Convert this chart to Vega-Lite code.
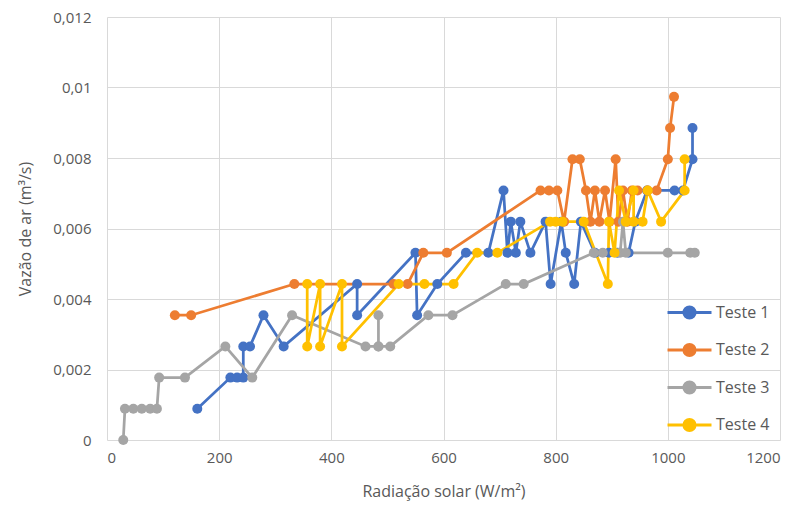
{
  "$schema": "https://vega.github.io/schema/vega-lite/v6.json",
  "width": 673,
  "height": 423,
  "autosize": {"type": "none"},
  "padding": {"left": 107, "top": 17, "right": 27, "bottom": 73},
  "background": "white",
  "config": {
    "font": "Open Sans",
    "view": {"stroke": null},
    "axis": {"labelColor": "#595959", "titleColor": "#595959", "labelFontSize": 15, "titleFontSize": 16, "titleFontWeight": "normal", "gridColor": "#d9d9d9", "gridWidth": 1, "domain": false, "ticks": false}
  },
  "data": {"values": [
    {"s":"Teste 1","i":1,"x":161,"y":0.000885},
    {"s":"Teste 1","i":2,"x":220,"y":0.00177},
    {"s":"Teste 1","i":3,"x":232,"y":0.00177},
    {"s":"Teste 1","i":4,"x":243,"y":0.00177},
    {"s":"Teste 1","i":5,"x":243,"y":0.002655},
    {"s":"Teste 1","i":6,"x":255,"y":0.002655},
    {"s":"Teste 1","i":7,"x":279,"y":0.00354},
    {"s":"Teste 1","i":8,"x":315,"y":0.002655},
    {"s":"Teste 1","i":9,"x":446,"y":0.004425},
    {"s":"Teste 1","i":10,"x":446,"y":0.00354},
    {"s":"Teste 1","i":11,"x":550,"y":0.00531},
    {"s":"Teste 1","i":12,"x":553,"y":0.00354},
    {"s":"Teste 1","i":13,"x":589,"y":0.004425},
    {"s":"Teste 1","i":14,"x":640,"y":0.00531},
    {"s":"Teste 1","i":15,"x":680,"y":0.00531},
    {"s":"Teste 1","i":16,"x":707,"y":0.00708},
    {"s":"Teste 1","i":17,"x":714,"y":0.00531},
    {"s":"Teste 1","i":18,"x":720,"y":0.006195},
    {"s":"Teste 1","i":19,"x":729,"y":0.00531},
    {"s":"Teste 1","i":20,"x":737,"y":0.006195},
    {"s":"Teste 1","i":21,"x":755,"y":0.00531},
    {"s":"Teste 1","i":22,"x":782,"y":0.006195},
    {"s":"Teste 1","i":23,"x":791,"y":0.004425},
    {"s":"Teste 1","i":24,"x":810,"y":0.006195},
    {"s":"Teste 1","i":25,"x":818,"y":0.00531},
    {"s":"Teste 1","i":26,"x":833,"y":0.004425},
    {"s":"Teste 1","i":27,"x":845,"y":0.006195},
    {"s":"Teste 1","i":28,"x":870,"y":0.00531},
    {"s":"Teste 1","i":29,"x":895,"y":0.00531},
    {"s":"Teste 1","i":30,"x":910,"y":0.00531},
    {"s":"Teste 1","i":31,"x":930,"y":0.00531},
    {"s":"Teste 1","i":32,"x":942,"y":0.006195},
    {"s":"Teste 1","i":33,"x":963,"y":0.00708},
    {"s":"Teste 1","i":34,"x":1012,"y":0.00708},
    {"s":"Teste 1","i":35,"x":1027,"y":0.00708},
    {"s":"Teste 1","i":36,"x":1044,"y":0.007965},
    {"s":"Teste 1","i":37,"x":1044,"y":0.00885},
    {"s":"Teste 2","i":1,"x":121,"y":0.00354},
    {"s":"Teste 2","i":2,"x":150,"y":0.00354},
    {"s":"Teste 2","i":3,"x":334,"y":0.004425},
    {"s":"Teste 2","i":4,"x":511,"y":0.004425},
    {"s":"Teste 2","i":5,"x":536,"y":0.004425},
    {"s":"Teste 2","i":6,"x":564,"y":0.00531},
    {"s":"Teste 2","i":7,"x":606,"y":0.00531},
    {"s":"Teste 2","i":8,"x":773,"y":0.00708},
    {"s":"Teste 2","i":9,"x":788,"y":0.00708},
    {"s":"Teste 2","i":10,"x":803,"y":0.00708},
    {"s":"Teste 2","i":11,"x":815,"y":0.006195},
    {"s":"Teste 2","i":12,"x":830,"y":0.007965},
    {"s":"Teste 2","i":13,"x":843,"y":0.007965},
    {"s":"Teste 2","i":14,"x":854,"y":0.00708},
    {"s":"Teste 2","i":15,"x":862,"y":0.006195},
    {"s":"Teste 2","i":16,"x":870,"y":0.00708},
    {"s":"Teste 2","i":17,"x":878,"y":0.006195},
    {"s":"Teste 2","i":18,"x":888,"y":0.00708},
    {"s":"Teste 2","i":19,"x":896,"y":0.006195},
    {"s":"Teste 2","i":20,"x":907,"y":0.007965},
    {"s":"Teste 2","i":21,"x":912,"y":0.006195},
    {"s":"Teste 2","i":22,"x":920,"y":0.00708},
    {"s":"Teste 2","i":23,"x":928,"y":0.006195},
    {"s":"Teste 2","i":24,"x":936,"y":0.00708},
    {"s":"Teste 2","i":25,"x":946,"y":0.00708},
    {"s":"Teste 2","i":26,"x":964,"y":0.00708},
    {"s":"Teste 2","i":27,"x":980,"y":0.00708},
    {"s":"Teste 2","i":28,"x":1000,"y":0.007965},
    {"s":"Teste 2","i":29,"x":1004,"y":0.00885},
    {"s":"Teste 2","i":30,"x":1011,"y":0.009735},
    {"s":"Teste 3","i":1,"x":29,"y":0},
    {"s":"Teste 3","i":2,"x":32,"y":0.000885},
    {"s":"Teste 3","i":3,"x":47,"y":0.000885},
    {"s":"Teste 3","i":4,"x":62,"y":0.000885},
    {"s":"Teste 3","i":5,"x":77,"y":0.000885},
    {"s":"Teste 3","i":6,"x":89,"y":0.000885},
    {"s":"Teste 3","i":7,"x":93,"y":0.00177},
    {"s":"Teste 3","i":8,"x":139,"y":0.00177},
    {"s":"Teste 3","i":9,"x":211,"y":0.002655},
    {"s":"Teste 3","i":10,"x":259,"y":0.00177},
    {"s":"Teste 3","i":11,"x":330,"y":0.00354},
    {"s":"Teste 3","i":12,"x":461,"y":0.002655},
    {"s":"Teste 3","i":13,"x":484,"y":0.002655},
    {"s":"Teste 3","i":14,"x":484,"y":0.00354},
    {"s":"Teste 3","i":15,"x":484,"y":0.002655},
    {"s":"Teste 3","i":16,"x":505,"y":0.002655},
    {"s":"Teste 3","i":17,"x":573,"y":0.00354},
    {"s":"Teste 3","i":18,"x":616,"y":0.00354},
    {"s":"Teste 3","i":19,"x":711,"y":0.004425},
    {"s":"Teste 3","i":20,"x":743,"y":0.004425},
    {"s":"Teste 3","i":21,"x":868,"y":0.00531},
    {"s":"Teste 3","i":22,"x":884,"y":0.00531},
    {"s":"Teste 3","i":23,"x":915,"y":0.00531},
    {"s":"Teste 3","i":24,"x":920,"y":0.006195},
    {"s":"Teste 3","i":25,"x":925,"y":0.00531},
    {"s":"Teste 3","i":26,"x":1000,"y":0.00531},
    {"s":"Teste 3","i":27,"x":1040,"y":0.00531},
    {"s":"Teste 3","i":28,"x":1048,"y":0.00531},
    {"s":"Teste 4","i":1,"x":357,"y":0.004425},
    {"s":"Teste 4","i":2,"x":357,"y":0.002655},
    {"s":"Teste 4","i":3,"x":380,"y":0.004425},
    {"s":"Teste 4","i":4,"x":380,"y":0.002655},
    {"s":"Teste 4","i":5,"x":419,"y":0.004425},
    {"s":"Teste 4","i":6,"x":419,"y":0.002655},
    {"s":"Teste 4","i":7,"x":520,"y":0.004425},
    {"s":"Teste 4","i":8,"x":566,"y":0.004425},
    {"s":"Teste 4","i":9,"x":618,"y":0.004425},
    {"s":"Teste 4","i":10,"x":660,"y":0.00531},
    {"s":"Teste 4","i":11,"x":696,"y":0.00531},
    {"s":"Teste 4","i":12,"x":790,"y":0.006195},
    {"s":"Teste 4","i":13,"x":800,"y":0.006195},
    {"s":"Teste 4","i":14,"x":812,"y":0.006195},
    {"s":"Teste 4","i":15,"x":850,"y":0.006195},
    {"s":"Teste 4","i":16,"x":893,"y":0.004425},
    {"s":"Teste 4","i":17,"x":895,"y":0.006195},
    {"s":"Teste 4","i":18,"x":905,"y":0.00531},
    {"s":"Teste 4","i":19,"x":913,"y":0.00708},
    {"s":"Teste 4","i":20,"x":925,"y":0.006195},
    {"s":"Teste 4","i":21,"x":939,"y":0.00708},
    {"s":"Teste 4","i":22,"x":939,"y":0.006195},
    {"s":"Teste 4","i":23,"x":955,"y":0.006195},
    {"s":"Teste 4","i":24,"x":964,"y":0.00708},
    {"s":"Teste 4","i":25,"x":988,"y":0.006195},
    {"s":"Teste 4","i":26,"x":1030,"y":0.00708},
    {"s":"Teste 4","i":27,"x":1030,"y":0.007965}
  ]},
  "encoding": {
    "x": {"field": "x", "type": "quantitative", "scale": {"domain": [0, 1200], "nice": false, "zero": false},
      "axis": {"values": [0, 200, 400, 600, 800, 1000, 1200], "labelExpr": "toString(datum.value)", "title": "Radiação solar (W/m²)", "labelPadding": 10, "titlePadding": 18}},
    "y": {"field": "y", "type": "quantitative", "scale": {"domain": [0, 0.012], "nice": false},
      "axis": {"values": [0, 0.002, 0.004, 0.006, 0.008, 0.01, 0.012], "labelExpr": "replace(toString(datum.value), '.', ',')", "title": "Vazão de ar (m³/s)", "labelPadding": 16, "titlePadding": 19}},
    "color": {"field": "s", "type": "nominal",
      "scale": {"domain": ["Teste 1", "Teste 2", "Teste 3", "Teste 4"], "range": ["#4472C4", "#ED7D31", "#A5A5A5", "#FFC000"]},
      "legend": {"title": null, "orient": "none", "legendX": 566, "legendY": 279,
        "symbolType": "M-1.5,0L1.5,0M-0.38,0A0.38,0.38 0 1,0 0.38,0A0.38,0.38 0 1,0 -0.38,0",
        "symbolSize": 860, "symbolStrokeWidth": 3, "labelFontSize": 16, "labelColor": "#595959", "labelOffset": 10, "rowPadding": 8.5,
        "encode": {"symbols": {"update": {"fill": {"scale": "color", "field": "value"}, "stroke": {"scale": "color", "field": "value"}, "opacity": {"value": 1}, "fillOpacity": {"value": 1}}}}}
    }
  },
  "layer": [
    {"mark": {"type": "line", "strokeWidth": 2.75}, "encoding": {"order": {"field": "i", "type": "quantitative"}}},
    {"mark": {"type": "point", "filled": true, "size": 100, "opacity": 1}}
  ]
}
